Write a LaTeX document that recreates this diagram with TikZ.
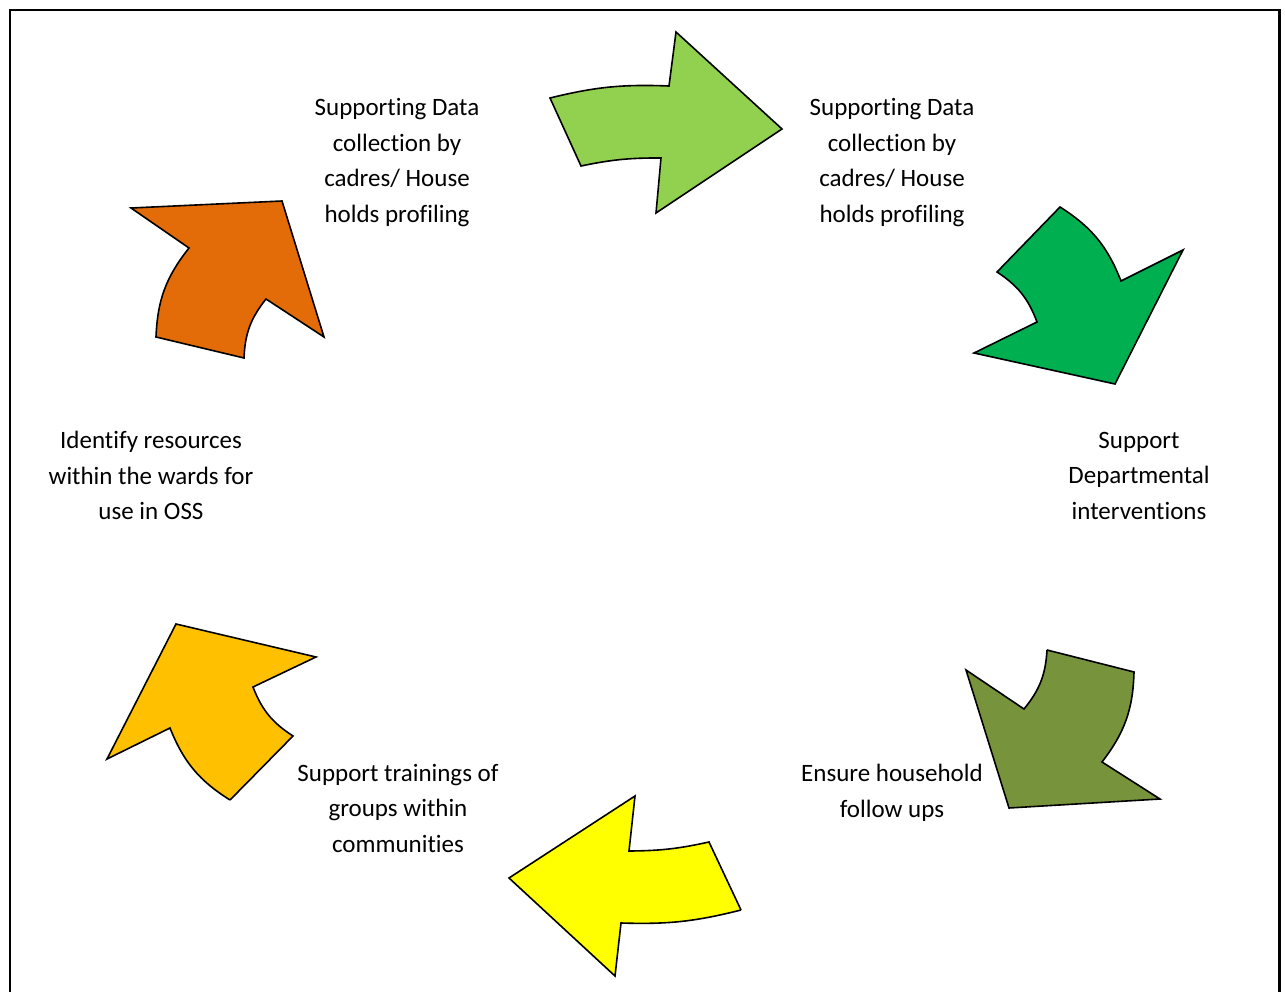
\documentclass[tikz,border=0pt]{standalone}
\usepackage{fontspec}
\setmainfont{Carlito}[Ligatures=NoCommon]
\usetikzlibrary{positioning}
\definecolor{limegreen}{HTML}{92D050}
\definecolor{leafgreen}{HTML}{00B050}
\definecolor{olivegreen}{HTML}{77933C}
\definecolor{brightyellow}{HTML}{FFFF00}
\definecolor{amber}{HTML}{FFC000}
\definecolor{burntorange}{HTML}{E36C09}
\tikzset{
	cyclearrow/.style={draw=black, line width=1.6pt, line join=miter},
	caption/.style={align=center, inner sep=0pt, font=\fontsize{25}{35.5}\selectfont}
}

\begin{document}
\begin{tikzpicture}[x=1pt,y=1pt]
			\useasboundingbox (0,0) rectangle (1285,-992);
			% Frame, open at the bottom
			\draw[line width=2.8pt] (10,-1000) -- (10,-10) -- (1279.5,-10) -- (1279.5,-1000);

			% Define the coordinates of the arrows
			\coordinate (a1) at (550,-98);
			\coordinate (a2) at (669,-86);
			\coordinate (a3) at (676,-32);
			\coordinate (a4) at (782,-129);
			\coordinate (a5) at (656,-213);
			\coordinate (a6) at (661,-158);
			\coordinate (a7) at (581,-166);

			\coordinate (b1) at (1060,-207);
			\coordinate (b2) at (1121,-281);
			\coordinate (b3) at (1183,-250);
			\coordinate (b4) at (1115,-384);
			\coordinate (b5) at (974,-353);
			\coordinate (b6) at (1037,-322);
			\coordinate (b7) at (997,-272);

			\coordinate (c1) at (1047,-650);
			\coordinate (c2) at (1134,-672);
			\coordinate (c3) at (1102,-762);
			\coordinate (c4) at (1160,-799);
			\coordinate (c5) at (1009,-808);
			\coordinate (c6) at (966,-670);
			\coordinate (c7) at (1024,-709);

			\coordinate (d1) at (741,-910);
			\coordinate (d2) at (709,-842);
			\coordinate (d3) at (629,-851);
			\coordinate (d4) at (635,-796);
			\coordinate (d5) at (509,-878);
			\coordinate (d6) at (615,-976);
			\coordinate (d7) at (621,-923);

			\coordinate (e1) at (230,-800);
			\coordinate (e2) at (293,-736);
			\coordinate (e3) at (253,-687);
			\coordinate (e4) at (316,-657);
			\coordinate (e5) at (176,-624);
			\coordinate (e6) at (107,-759);
			\coordinate (e7) at (170,-728);

			\coordinate (f1) at (156,-337);
			\coordinate (f2) at (189,-248);
			\coordinate (f3) at (131,-208);
			\coordinate (f4) at (282,-201);
			\coordinate (f5) at (324,-337);
			\coordinate (f6) at (266,-299);
			\coordinate (f7) at (244,-358);

			% Draw the arrows
			\draw[cyclearrow, fill=limegreen] (a1) to[bend left=8] (a2) -- (a3) -- (a4) -- (a5) -- (a6) to[bend right=6] (a7) -- cycle;
			\draw[cyclearrow, fill=leafgreen] (b1) to[bend left=18] (b2) -- (b3) -- (b4) -- (b5) -- (b6) to[bend right=18] (b7) -- cycle;
			\draw[cyclearrow, fill=olivegreen] (c1) -- (c2) to[bend left=18] (c3) -- (c4) -- (c5) -- (c6) -- (c7) to[bend right=18] (c1);
			\draw[cyclearrow, fill=brightyellow] (d1) -- (d2) to[bend left=6] (d3) -- (d4) -- (d5) -- (d6) -- (d7) to[bend right=8] (d1);
			\draw[cyclearrow, fill=amber] (e1) -- (e2) to[bend left=18] (e3) -- (e4) -- (e5) -- (e6) -- (e7) to[bend right=18] (e1);
			\draw[cyclearrow, fill=burntorange] (f1) to[bend left=18] (f2) -- (f3) -- (f4) -- (f5) -- (f6) to[bend right=18] (f7) -- cycle;

			% Labels
			\node[caption] (datain) at (397,-162.5) {Supporting Data\\collection by\\cadres/ House\\holds profiling};
			\node[caption] (dataout) at (892,-162.5) {Supporting Data\\collection by\\cadres/ House\\holds profiling};
			\node[caption] (depts) at (1139,-475.5) {Support\\Departmental\\interventions};
			\node[caption] (followups) at (892,-793) {Ensure household\\follow ups};
			\node[caption] (trainings) at (398,-808) {Support trainings of\\groups within\\communities};
			\node[caption] (resources) at (151,-475.5) {Identify resources\\within the wards for\\use in OSS};
\end{tikzpicture}
\end{document}
